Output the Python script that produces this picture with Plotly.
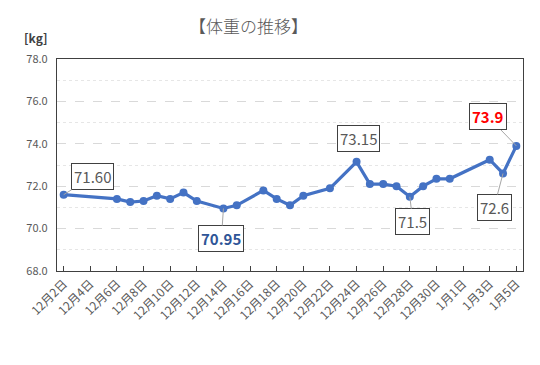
import plotly.graph_objects as go

dates = ["2023-12-02", "2023-12-06", "2023-12-07", "2023-12-08", "2023-12-09",
         "2023-12-10", "2023-12-11", "2023-12-12", "2023-12-14", "2023-12-15",
         "2023-12-17", "2023-12-18", "2023-12-19", "2023-12-20", "2023-12-22",
         "2023-12-24", "2023-12-25", "2023-12-26", "2023-12-27", "2023-12-28",
         "2023-12-29", "2023-12-30", "2023-12-31", "2024-01-03", "2024-01-04",
         "2024-01-05"]
weights = [71.60, 71.4, 71.25, 71.3, 71.55, 71.4, 71.7, 71.3, 70.95, 71.1,
           71.8, 71.4, 71.1, 71.55, 71.9, 73.15, 72.1, 72.1, 72.0, 71.5,
           72.0, 72.35, 72.35, 73.25, 72.6, 73.9]

tick_dates = ["2023-12-02", "2023-12-04", "2023-12-06", "2023-12-08", "2023-12-10",
              "2023-12-12", "2023-12-14", "2023-12-16", "2023-12-18", "2023-12-20",
              "2023-12-22", "2023-12-24", "2023-12-26", "2023-12-28", "2023-12-30",
              "2024-01-01", "2024-01-03", "2024-01-05"]
tick_labels = ["12月2日", "12月4日", "12月6日", "12月8日", "12月10日", "12月12日",
               "12月14日", "12月16日", "12月18日", "12月20日", "12月22日", "12月24日",
               "12月26日", "12月28日", "12月30日", "1月1日", "1月3日", "1月5日"]

# labelled points: (index, text, colour, bold, pixel offset x, pixel offset y, show leader)
callouts = [
    (0, "71.60", "#595959", False, 29, -18, True),
    (8, "70.95", "#2F5597", True, -2, 30, True),
    (15, "73.15", "#595959", False, 2, -23, False),
    (19, "71.5", "#595959", False, 3, 25, True),
    (24, "72.6", "#595959", False, -9, 34, True),
    (25, "73.9", "#FF0000", True, -28, -29, True),
]

FONT = "Noto Sans CJK JP"

fig = go.Figure()
fig.add_trace(go.Scatter(
    x=dates, y=weights, mode="lines+markers",
    line=dict(color="#4472C4", width=3.2),
    marker=dict(color="#4472C4", size=8),
    hoverinfo="skip", showlegend=False,
))

for idx, txt, col, bold, ax, ay, leader in callouts:
    fig.add_annotation(
        x=dates[idx], y=weights[idx], text=f"<b>{txt}</b>" if bold else txt,
        font=dict(family=FONT, size=15, color=col),
        showarrow=True, arrowhead=0, arrowwidth=1,
        arrowcolor="#A6A6A6" if leader else "rgba(0,0,0,0)",
        ax=ax, ay=ay, standoff=0, startstandoff=0,
        bordercolor="#404040", borderwidth=1, borderpad=2,
        bgcolor="white",
    )

fig.add_annotation(
    text="【体重の推移】", xref="paper", yref="paper",
    x=0.412, y=1.0, yshift=34, xanchor="center", yanchor="middle",
    showarrow=False,
    font=dict(family=FONT, size=17, color="#595959", weight=300),
)
fig.add_annotation(
    text="<b>[kg]</b>", xref="paper", yref="paper",
    x=-0.047, y=1.0, yshift=22, xanchor="center", yanchor="middle",
    showarrow=False,
    font=dict(family=FONT, size=12, color="#404040"),
)

fig.update_xaxes(
    type="date",
    range=["2023-12-01 12:00", "2024-01-05 12:00"],
    tickvals=tick_dates, ticktext=tick_labels, tickangle=-45,
    ticks="inside", ticklen=5, tickcolor="#404040",
    tickfont=dict(family=FONT, size=12, color="#595959"),
    showline=True, linecolor="#404040", linewidth=1.2, mirror=True,
    showgrid=False, zeroline=False,
)
fig.update_yaxes(
    range=[68, 78], dtick=2, tick0=68, tickformat=".1f",
    tickfont=dict(family=FONT, size=11, color="#595959"),
    showline=True, linecolor="#404040", linewidth=1.2, mirror=True,
    showgrid=True, gridcolor="#D9D9D9", griddash="dash", gridwidth=1,
    minor=dict(dtick=1, tick0=68, showgrid=True, gridcolor="#E6E6E6",
               griddash="dot", gridwidth=1),
    zeroline=False, ticks="", ticklabelstandoff=6,
)

fig.update_layout(
    width=540, height=365,
    margin=dict(l=49, r=25, t=51, b=102),
    paper_bgcolor="white", plot_bgcolor="white",
    font=dict(family=FONT),
)

fig.write_html("out.html")
